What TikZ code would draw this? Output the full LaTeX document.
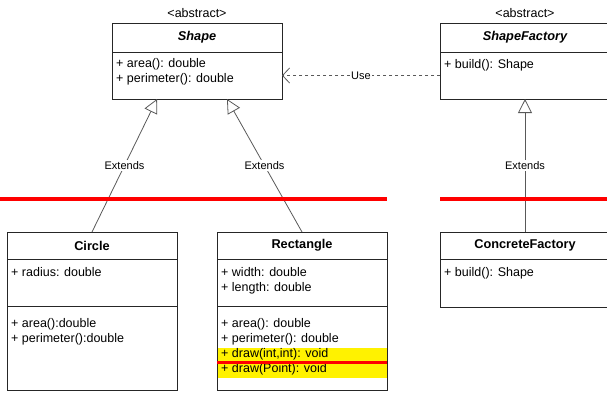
\documentclass[tikz,border=0pt]{standalone}
\usepackage{fontspec}
\setmainfont{Liberation Sans}
\usetikzlibrary{positioning,arrows.meta}
\begin{document}
\begin{tikzpicture}[x=1pt,y=-1pt,
	font=\fontsize{12.5}{15}\selectfont,
	box/.style={draw=black!85,line width=0.9pt,minimum width=170pt,outer sep=0pt,inner sep=0pt},
	head/.style={box,minimum height=29pt,font=\fontsize{12.75}{15}\selectfont\bfseries},
	part/.style={box,below=0pt of #1},
	members/.style={anchor=north west,align=left,inner sep=0pt},
	extends/.style={draw=black!65,line width=0.8pt,-{Triangle[open,length=14pt,width=14pt,fill=white]}},
	uses/.style={draw=black!65,line width=0.8pt,dash pattern=on 3pt off 3pt,-{Straight Barb[length=7pt,width=15pt]}},
	tag/.style={fill=white,inner sep=1.5pt,font=\fontsize{11}{13}\selectfont},
	cut/.style={red,line width=3.5pt}]
	\useasboundingbox (0,0) rectangle (607,392);
	% Abstract classes
	\node[head] (shape) at (197,37.5) {\itshape Shape};
	\node[above=2pt of shape] (shape stereo) {<abstract>};
	\node[part=shape,minimum height=47pt] (shape body) {};
	\node[members] (shape ops) at ([shift={(4,6)}]shape body.north west) {+ area(): double\\+ perimeter(): double};
	\node[head] (factory) at (525,37.5) {\itshape ShapeFactory};
	\node[above=2pt of factory] (factory stereo) {<abstract>};
	\node[part=factory,minimum height=47pt] (factory body) {};
	\node[members] (factory ops) at ([shift={(4,7)}]factory body.north west) {+ build(): Shape};
	% Concrete classes
	\node[head,minimum height=27pt] (circle) at (92,245.5) {Circle};
	\node[part=circle,minimum height=47pt] (circle attrs) {};
	\node[part=circle attrs,minimum height=84pt] (circle meths) {};
	\node[members] (circle fields) at ([shift={(4,8)}]circle attrs.north west) {+ radius: double};
	\node[members] (circle ops) at ([shift={(4,12)}]circle meths.north west) {+ area():double\\+ perimeter():double};
	\node[head,minimum height=27pt] (rect) at (302,245.5) {Rectangle};
	\node[part=rect,minimum height=47pt] (rect attrs) {};
	\node[part=rect attrs,minimum height=84pt] (rect meths) {};
	% Highlighted overloads
	\fill[yellow] ([shift={(0.5,42)}]rect meths.north west) rectangle ([shift={(-0.5,72)}]rect meths.north east);
	\node[members] (rect fields) at ([shift={(4,8)}]rect attrs.north west) {+ width: double\\+ length: double};
	\node[members] (rect ops) at ([shift={(4,12)}]rect meths.north west) {+ area(): double\\+ perimeter(): double\\+ draw(int,int): void\\+ draw(Point): void};
	\draw[red,line width=3pt] ([shift={(0,56)}]rect meths.north west) -- ([shift={(0,56)}]rect meths.north east);
	\node[head,minimum height=27pt] (concrete) at (525,245.5) {ConcreteFactory};
	\node[part=concrete,minimum height=48pt] (concrete body) {};
	\node[members] (concrete ops) at ([shift={(4,8)}]concrete body.north west) {+ build(): Shape};
	% Relations
	\draw[extends] (circle.north) -- node[tag] {Extends} ([xshift=-40pt]shape body.south);
	\draw[extends] (rect.north) -- node[tag] {Extends} ([xshift=30pt]shape body.south);
	\draw[extends] (concrete.north) -- node[tag] {Extends} (factory body.south);
	\draw[uses] (factory body.west) -- node[tag] {Use} (shape body.east);
	% Red cut lines
	\draw[cut] (0,199) -- (387,199);
	\draw[cut] (440,199) -- (607,199);
\end{tikzpicture}
\end{document}
